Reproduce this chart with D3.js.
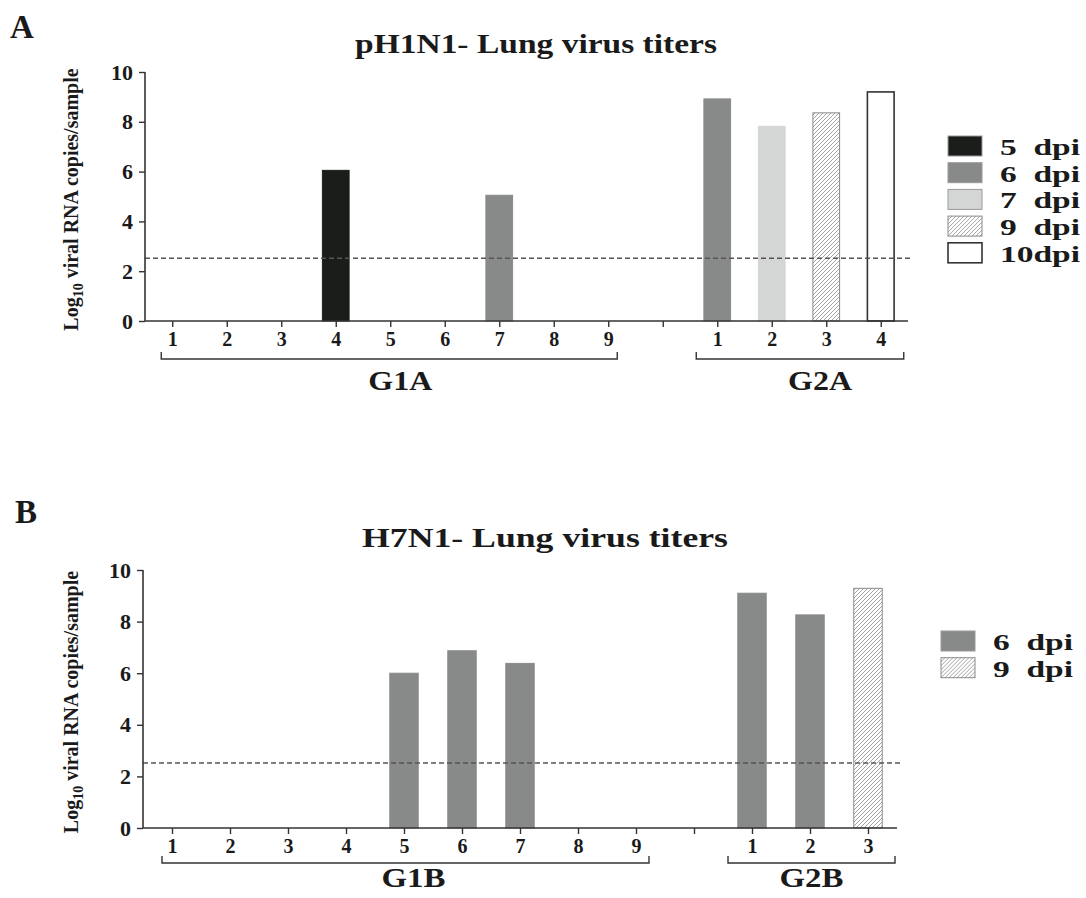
<!DOCTYPE html>
<html>
<head>
<meta charset="utf-8">
<script src="https://cdn.jsdelivr.net/npm/d3@7"></script>
<style>
  body { margin: 0; background: #fff; }
  text { font-family: "Liberation Serif", "Times New Roman", serif; font-weight: bold; fill: #1a1a1a; }
</style>
</head>
<body>
<svg id="fig" width="1086" height="898"></svg>
<script>
// panel A - pH1N1
var titleA = "pH1N1- Lung virus titers";
var groupsA = ["G1A", "G2A"];
var animalsA1 = ["1", "2", "3", "4", "5", "6", "7", "8", "9"];
var valuesA1 = [0, 0, 0, 6.05, 0, 0, 5.05, 0, 0];
var dpiA1 = [null, null, null, "5 dpi", null, null, "6 dpi", null, null];
var animalsA2 = ["1", "2", "3", "4"];
var valuesA2 = [8.92, 7.82, 8.36, 9.2];
var dpiA2 = ["6 dpi", "7 dpi", "9 dpi", "10dpi"];
var legendA = ["5 dpi", "6 dpi", "7 dpi", "9 dpi", "10dpi"];

// panel B - H7N1
var titleB = "H7N1- Lung virus titers";
var groupsB = ["G1B", "G2B"];
var animalsB1 = ["1", "2", "3", "4", "5", "6", "7", "8", "9"];
var valuesB1 = [0, 0, 0, 0, 6.0, 6.87, 6.38, 0, 0];
var dpiB1 = [null, null, null, null, "6 dpi", "6 dpi", "6 dpi", null, null];
var animalsB2 = ["1", "2", "3"];
var valuesB2 = [9.1, 8.26, 9.29];
var dpiB2 = ["6 dpi", "6 dpi", "9 dpi"];
var legendB = ["6 dpi", "9 dpi"];

var yTicks = [0, 2, 4, 6, 8, 10];
var detectionLimit = 2.52;

var svg = d3.select("#fig");

var defs = svg.append("defs");
var pat = defs.append("pattern").attr("id", "hatch")
  .attr("patternUnits", "userSpaceOnUse").attr("width", 4).attr("height", 4);
pat.append("rect").attr("width", 4).attr("height", 4).attr("fill", "#fff");
pat.append("path").attr("d", "M-1,1 l2,-2 M0,4 l4,-4 M3,5 l2,-2")
  .attr("stroke", "#999").attr("stroke-width", 0.9);

var fills = {
  "5 dpi": { fill: "#1b1d1b", stroke: "#1b1d1b" },
  "6 dpi": { fill: "#888a89", stroke: "#888a89" },
  "7 dpi": { fill: "#d4d6d5", stroke: "#d4d6d5" },
  "9 dpi": { fill: "url(#hatch)", stroke: "#8a8a8a" },
  "10dpi": { fill: "#fff", stroke: "#333" }
};

function panel(p) {
  var g = svg.append("g");
  // slots: group 1, a blank gap, group 2
  var slots = p.a1.map(function(d, i) { return "a" + i; })
    .concat(["gap"])
    .concat(p.a2.map(function(d, i) { return "b" + i; }));
  var x = d3.scalePoint().domain(slots).range([p.x0, p.x1]).padding(0.5);
  var y = d3.scaleLinear().domain([0, 10]).range([p.y0, p.y1]);
  var bw = x.step() * 0.49;

  var bars = p.v1.map(function(v, i) { return { k: "a" + i, v: v, dpi: p.d1[i] }; })
    .concat(p.v2.map(function(v, i) { return { k: "b" + i, v: v, dpi: p.d2[i] }; }))
    .filter(function(d) { return d.v > 0; });

  g.selectAll("rect.bar").data(bars).enter().append("rect")
    .attr("class", "bar")
    .attr("x", function(d) { return x(d.k) - bw / 2; })
    .attr("width", bw)
    .attr("y", function(d) { return y(d.v); })
    .attr("height", function(d) { return y(0) - y(d.v); })
    .attr("fill", function(d) { return fills[d.dpi].fill; })
    .attr("stroke", function(d) { return fills[d.dpi].stroke; })
    .attr("stroke-width", function(d) { return d.dpi == "10dpi" ? 1.6 : 1; });

  // detection limit
  g.append("line")
    .attr("x1", p.x0).attr("x2", p.x1 + p.dashExtra)
    .attr("y1", y(detectionLimit)).attr("y2", y(detectionLimit))
    .attr("stroke", "#555").attr("stroke-width", 1.4).attr("stroke-dasharray", "5,3");

  // y axis
  var ya = g.append("g").attr("transform", "translate(" + p.x0 + ",0)")
    .call(d3.axisLeft(y).tickValues(yTicks).tickSize(6).tickPadding(6));
  ya.select(".domain").attr("stroke", "#333").attr("stroke-width", 1.6).attr("d", "M0," + y(0) + "V" + y(10));
  ya.selectAll(".tick line").attr("stroke", "#333").attr("stroke-width", 1.4);
  ya.selectAll(".tick text").attr("font-size", 22).attr("fill", "#1a1a1a")
    .style("font-family", "Liberation Serif").style("font-weight", "bold");

  // x axis
  var labels = {};
  p.a1.forEach(function(d, i) { labels["a" + i] = d; });
  p.a2.forEach(function(d, i) { labels["b" + i] = d; });
  labels["gap"] = "";
  var xa = g.append("g").attr("transform", "translate(0," + y(0) + ")")
    .call(d3.axisBottom(x).tickSize(6).tickPadding(5).tickFormat(function(d) { return labels[d]; }));
  xa.select(".domain").attr("stroke", "#333").attr("stroke-width", 1.6).attr("d", "M" + p.x0 + ",0H" + p.x1);
  xa.selectAll(".tick line").attr("stroke", "#333").attr("stroke-width", 1.4);
  xa.selectAll(".tick text").attr("font-size", 20).attr("fill", "#1a1a1a")
    .style("font-family", "Liberation Serif").style("font-weight", "bold");

  // group brackets
  var br = [
    { l: x("a0") - p.b1[0], r: x("a" + (p.a1.length - 1)) + p.b1[1], name: p.groups[0], lx: p.lx[0] },
    { l: x("b0") - p.b2[0], r: x("b" + (p.a2.length - 1)) + p.b2[1], name: p.groups[1], lx: p.lx[1] }
  ];
  g.selectAll("path.br").data(br).enter().append("path")
    .attr("d", function(d) { return "M" + d.l + "," + (p.by - 7) + "V" + p.by + "H" + d.r + "V" + (p.by - 7); })
    .attr("fill", "none").attr("stroke", "#333").attr("stroke-width", 1.4);
  g.selectAll("text.grp").data(br).enter().append("text")
    .attr("x", function(d) { return (d.l + d.r) / 2 + d.lx; })
    .attr("y", p.by + p.gy)
    .attr("text-anchor", "middle").attr("font-size", 27)
    .attr("textLength", 64).attr("lengthAdjust", "spacingAndGlyphs")
    .text(function(d) { return d.name; });

  // title and panel letter
  g.append("text").attr("x", p.tx).attr("y", p.ty).attr("text-anchor", "middle")
    .attr("font-size", 27).attr("textLength", p.tw).attr("lengthAdjust", "spacingAndGlyphs")
    .text(p.title);
  g.append("text").attr("x", p.lettX).attr("y", p.lettY).attr("font-size", 33).text(p.letter);

  // y label
  var yl = g.append("text")
    .attr("transform", "translate(78," + ((y(0) + y(10)) / 2 + 3) + ") rotate(-90)")
    .attr("text-anchor", "middle").attr("font-size", 20);
  yl.append("tspan").text("Log");
  yl.append("tspan").attr("font-size", 14).attr("dy", 5).text("10");
  yl.append("tspan").attr("dy", -5).text(" viral RNA copies/sample");

  // legend
  var lg = g.append("g").attr("transform", "translate(" + p.legX + "," + p.legY + ")");
  var items = lg.selectAll("g").data(p.legend).enter().append("g")
    .attr("transform", function(d, i) { return "translate(0," + i * 26.7 + ")"; });
  items.append("rect").attr("width", 34).attr("height", 20)
    .attr("fill", function(d) { return fills[d].fill; })
    .attr("stroke", function(d) { return d == "10dpi" ? "#333" : (d == "9 dpi" ? "#8a8a8a" : "#999"); })
    .attr("stroke-width", function(d) { return d == "10dpi" ? 1.6 : 1; });
  items.append("text").attr("x", 52).attr("y", 19).attr("font-size", 24)
    .attr("xml:space", "preserve")
    .attr("textLength", 80).attr("lengthAdjust", "spacingAndGlyphs")
    .text(function(d) { return d.replace(" ", "  "); });
}

panel({
  title: titleA, letter: "A", groups: groupsA,
  a1: animalsA1, v1: valuesA1, d1: dpiA1,
  a2: animalsA2, v2: valuesA2, d2: dpiA2,
  legend: legendA,
  x0: 145, x1: 908, y0: 321, y1: 72, dashExtra: 5,
  b1: [11, 9], b2: [21, 23], by: 359, gy: 31, lx: [11, 20],
  tx: 536, ty: 53, tw: 362, lettX: 10, lettY: 38,
  legX: 948, legY: 136
});

panel({
  title: titleB, letter: "B", groups: groupsB,
  a1: animalsB1, v1: valuesB1, d1: dpiB1,
  a2: animalsB2, v2: valuesB2, d2: dpiB2,
  legend: legendB,
  x0: 143, x1: 897, y0: 828, y1: 570, dashExtra: 3,
  b1: [10, 13], b2: [24, 27], by: 863, gy: 24, lx: [8, 0],
  tx: 545, ty: 547, tw: 366, lettX: 15, lettY: 523,
  legX: 941, legY: 631
});
</script>
</body>
</html>
